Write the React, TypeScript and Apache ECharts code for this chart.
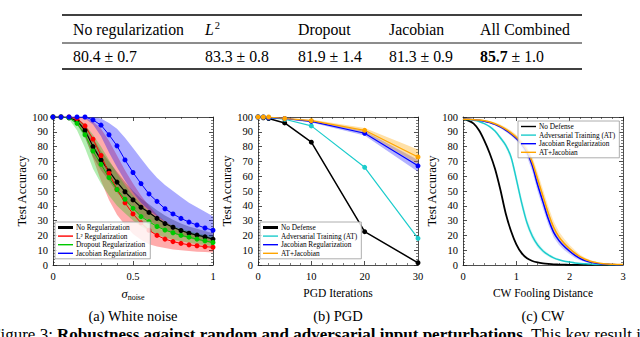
import React, { useEffect, useRef } from 'react';
import * as echarts from 'echarts';

const FONT = '"Liberation Serif","Times New Roman",Times,serif';

// ---------- Table ----------
const TABLE_HEADERS = ['No regularization', 'L2', 'Dropout', 'Jacobian', 'All Combined'];
const TABLE_MEAN = [80.4, 83.3, 81.9, 81.3, 85.7];
const TABLE_STD = [0.7, 0.8, 1.4, 0.9, 1.0];

// ---------- (a) White noise ----------
const X1 = [0, 0.05, 0.1, 0.15, 0.2, 0.25, 0.3, 0.35, 0.4, 0.45, 0.5, 0.55, 0.6, 0.65, 0.7, 0.75, 0.8, 0.85, 0.9, 0.95, 1];
const NONE_MEAN = [100, 100, 99.5, 97.5, 91, 80, 71, 63.5, 56, 49.5, 44, 39, 35.5, 31.5, 28, 25.5, 23.3, 21.5, 20.2, 19, 17.5];
const NONE_UP = [100, 100, 100, 99.5, 95, 86, 77, 70, 63, 56, 50, 45, 41, 37, 33.5, 30.5, 28, 26, 24.5, 23, 21.5];
const NONE_LO = [100, 100, 99, 95, 86, 73, 64, 57, 49, 43, 38, 33, 30, 26.5, 23.5, 21.5, 19.5, 18, 16.8, 15.7, 14.5];
const L2_MEAN = [100, 100, 100, 99, 94, 85, 74, 62, 51, 42, 34.5, 28.5, 23.5, 20, 17.5, 15.8, 14.6, 13.6, 13, 12.4, 12];
const L2_UP = [100, 100, 100, 100, 99.5, 97, 92, 84, 74, 64, 55, 47, 40, 34, 29.5, 26, 23.5, 21.5, 20, 18.5, 17];
const L2_LO = [100, 100, 99.5, 96, 87, 72, 57, 44, 34, 27, 21, 17, 14, 12.5, 11.5, 10.5, 10, 9.5, 9, 8.7, 8.5];
const DROP_MEAN = [100, 100, 99.5, 95.7, 88, 77, 68, 59, 51, 44.4, 38.3, 32.7, 29.3, 26, 23.6, 21.8, 20, 18.8, 17.5, 16.3, 15.2];
const DROP_UP = [100, 100, 100, 99, 95, 88, 80, 71, 62, 54, 47, 41, 36, 32, 29, 26.5, 24.5, 23, 21.5, 20.5, 19.5];
const DROP_LO = [100, 100, 98.5, 91, 79, 65, 55, 47, 40, 35, 30, 26, 23, 20.5, 18.5, 17, 16, 15, 14, 13.5, 12.5];
const JAC_MEAN = [100, 100, 100, 100, 100, 98, 94.5, 88, 80.5, 71, 62.5, 55, 48, 43, 38, 34.5, 31.5, 29, 27, 25, 23.5];
const JAC_UP = [100, 100, 100, 100, 100, 100, 99, 96, 92, 86, 79, 72, 65, 59, 54, 50, 46, 42, 39, 36, 33];
const JAC_LO = [100, 100, 100, 100, 99, 95, 87, 76, 66, 57, 49, 42, 37, 33, 29, 26, 24, 22, 20.5, 19, 18];

// ---------- (b) PGD ----------
const X2 = [0, 1, 2, 5, 10, 20, 30];
const PGD_NONE = [100, 99.5, 99, 96, 83, 22.5, 1.5];
const PGD_AT = [100, 100, 99.5, 98.5, 94, 66, 18];
const PGD_JAC = [100, 100, 99.5, 99, 97, 89, 67];
const PGD_JAC_UP = [100, 100, 100, 99.5, 97.8, 90.5, 71];
const PGD_JAC_LO = [100, 100, 99, 98.5, 96.2, 87.5, 63];
const PGD_ATJ = [100, 100, 100, 99, 97.5, 91, 73];
const PGD_ATJ_UP = [100, 100, 100, 99.5, 98.3, 92.5, 78];
const PGD_ATJ_LO = [100, 100, 99.5, 98.5, 96.7, 89.5, 68];

// ---------- (c) CW ----------
const X3 = [0, 0.1, 0.2, 0.3, 0.4, 0.5, 0.6, 0.7, 0.8, 0.9, 1, 1.1, 1.2, 1.3, 1.4, 1.5, 1.6, 1.7, 1.8, 1.9, 2, 2.1, 2.2, 2.3, 2.4, 2.5, 2.6, 2.7, 2.8, 2.9, 3];
const CW_NONE = [98.5, 97.5, 95.5, 91, 84, 75.5, 65, 51, 35, 23, 14, 8, 4.5, 2.7, 1.7, 1.1, 0.7, 0.4, 0.3, 0.2, 0.1, 0.1, 0.1, 0.1, 0.1, 0.1, 0.1, 0.1, 0.1, 0.1, 0.1];
const CW_AT = [98.5, 98.3, 97.8, 97, 95.5, 93.5, 90.5, 86, 81, 73, 58, 42, 28.5, 19.5, 13.5, 9.5, 6.8, 4.8, 3.5, 2.6, 2, 1.4, 1, 0.8, 0.6, 0.4, 0.3, 0.3, 0.2, 0.2, 0.2];
const CW_AT_UP = [98.6, 98.4, 98, 97.3, 96, 94.2, 91.5, 87.3, 82.7, 75.5, 61.5, 45.5, 31.5, 22, 15.5, 11, 8, 5.7, 4.2, 3.1, 2.4, 1.7, 1.2, 0.9, 0.7, 0.5, 0.4, 0.3, 0.3, 0.2, 0.2];
const CW_AT_LO = [98.4, 98.2, 97.6, 96.7, 95, 92.8, 89.5, 84.7, 79.3, 70.5, 54.5, 38.5, 25.5, 17, 11.5, 8, 5.6, 3.9, 2.8, 2.1, 1.6, 1.1, 0.8, 0.7, 0.5, 0.3, 0.2, 0.2, 0.1, 0.1, 0.1];
const CW_JAC = [98.5, 98.4, 98.2, 97.8, 97.2, 96.3, 95, 93.3, 91.2, 88.6, 85.5, 81.5, 76, 67, 54, 42.5, 31, 22, 16.5, 12.5, 9.3, 6.5, 4.3, 2.8, 1.8, 1.1, 0.7, 0.5, 0.3, 0.2, 0.2];
const CW_JAC_UP = [98.8, 98.7, 98.5, 98.2, 97.7, 96.9, 95.8, 94.2, 92.3, 89.9, 87, 83.3, 78.5, 70.5, 58.5, 47, 35.5, 26, 19.5, 15, 11.5, 8.3, 5.7, 3.8, 2.5, 1.6, 1, 0.7, 0.5, 0.3, 0.3];
const CW_JAC_LO = [98.2, 98.1, 97.9, 97.4, 96.7, 95.7, 94.2, 92.4, 90.1, 87.3, 84, 79.5, 73, 63, 49.5, 38, 27, 18.5, 13.5, 10, 7.2, 4.8, 3, 1.8, 1.1, 0.6, 0.4, 0.3, 0.2, 0.1, 0.1];
const CW_ATJ = [98.5, 98.4, 98.2, 97.9, 97.4, 96.6, 95.4, 93.8, 91.8, 89.3, 86.3, 82.5, 77.5, 69.5, 58, 46.5, 35, 25.5, 19, 14.5, 11, 8, 5.5, 3.7, 2.4, 1.6, 1, 0.7, 0.5, 0.3, 0.3];
const CW_ATJ_UP = [98.9, 98.8, 98.6, 98.4, 98, 97.3, 96.3, 94.9, 93.1, 90.8, 88, 84.5, 80, 73, 62.5, 51, 39.5, 29.5, 22.5, 17.5, 13.5, 10, 7, 4.8, 3.2, 2.1, 1.4, 1, 0.7, 0.5, 0.4];
const CW_ATJ_LO = [98.1, 98, 97.8, 97.4, 96.8, 95.9, 94.5, 92.7, 90.5, 87.8, 84.6, 80.5, 75, 66, 53.5, 42, 30.5, 21.5, 15.5, 11.5, 8.5, 6, 4, 2.6, 1.6, 1.1, 0.7, 0.4, 0.3, 0.2, 0.2];

const C_BLACK = '#000000';
const C_RED = '#ff0000';
const C_GREEN = '#00c800';
const C_BLUE = '#0000ff';
const C_CYAN = '#1ccccc';
const C_ORANGE = '#ffa500';

const GRID_LEFT = [53, 258, 463];

// bottom x axis / left y axis of grid g have index 2*g
// The whole band is one polygon drawn by the first data item.
function band(g: number, X: number[], lo: number[], hi: number[], fill: string, z: number) {
  return {
    type: 'custom',
    xAxisIndex: 2 * g,
    yAxisIndex: 2 * g,
    silent: true,
    z,
    data: X.map((x, i) => [x, lo[i], hi[i]]),
    encode: { x: 0, y: [1, 2] },
    renderItem: (params: any, api: any) => {
      if (params.dataIndexInside !== 0) return null;
      const n = params.dataInsideLength;
      const top: number[][] = [];
      const bot: number[][] = [];
      for (let i = 0; i < n; i++) {
        top.push(api.coord([api.value(0, i), api.value(2, i)]));
        bot.push(api.coord([api.value(0, i), api.value(1, i)]));
      }
      bot.reverse();
      return {
        type: 'polygon',
        shape: { points: top.concat(bot) },
        style: { fill },
      };
    },
  };
}

function line(name: string, g: number, X: number[], Y: number[], color: string, width: number, z: number, symbolSize = 0, smooth: any = false) {
  return {
    type: 'line',
    name,
    xAxisIndex: 2 * g,
    yAxisIndex: 2 * g,
    z,
    data: X.map((x, i) => [x, Y[i]]),
    color,
    lineStyle: { color, width },
    itemStyle: { color },
    symbol: symbolSize ? 'circle' : 'none',
    symbolSize,
    showSymbol: !!symbolSize,
    smooth,
  };
}

const axisLineStyle = { color: '#222', width: 0.8 };

function xAxes(g: number, max: number, interval: number, name: string, rich?: any) {
  const base = {
    type: 'value',
    gridIndex: g,
    min: 0,
    max,
    interval,
    splitLine: { show: false },
    axisLine: { show: true, onZero: false, lineStyle: axisLineStyle },
    axisTick: { show: true, inside: true, length: 4, lineStyle: axisLineStyle },
    minorTick: { show: true, splitNumber: 5, length: 2, lineStyle: { color: '#222', width: 0.6 } },
  };
  return [
    {
      ...base,
      position: 'bottom',
      axisLabel: { show: true, fontFamily: FONT, fontSize: 10.5, color: '#000', margin: 6 },
      name,
      nameLocation: 'middle',
      nameGap: 22,
      nameTextStyle: { fontFamily: FONT, fontSize: 11.5, color: '#000', rich },
    },
    { ...base, position: 'top', axisLabel: { show: false } },
  ];
}

function yAxes(g: number) {
  const base = {
    type: 'value',
    gridIndex: g,
    min: 0,
    max: 100,
    interval: 10,
    splitLine: { show: false },
    axisLine: { show: true, onZero: false, lineStyle: axisLineStyle },
    axisTick: { show: true, inside: true, length: 4, lineStyle: axisLineStyle },
    minorTick: { show: true, splitNumber: 5, length: 2, lineStyle: { color: '#222', width: 0.6 } },
  };
  return [
    {
      ...base,
      position: 'left',
      axisLabel: { show: true, fontFamily: FONT, fontSize: 10.5, color: '#000', margin: 5 },
      name: 'Test Accuracy',
      nameLocation: 'middle',
      nameGap: 21,
      nameTextStyle: { fontFamily: FONT, fontSize: 12.5, color: '#000' },
    },
    { ...base, position: 'right', axisLabel: { show: false } },
  ];
}

function legend(left: number, top: number, names: string[], thickFirst: boolean, itemHeight: number) {
  return {
    orient: 'vertical',
    left,
    top,
    itemGap: 1.6,
    itemWidth: 15,
    itemHeight,
    padding: [2, 4, 2, 3],
    borderColor: '#999',
    borderWidth: 0.8,
    backgroundColor: 'rgba(255,255,255,0.82)',
    selectedMode: false,
    data: names.map((n, i) => ({
      name: n,
      icon: thickFirst && i === 0 ? 'path://M0,0H15V3H0Z' : 'path://M0,0H15V1.4H0Z',
    })),
    textStyle: { fontFamily: FONT, fontSize: 7.3, color: '#000', padding: [0, 0, 0, -2] },
  };
}

export default function App() {
  const ref = useRef<HTMLDivElement>(null);
  useEffect(() => {
    if (!ref.current) return;
    const chart = echarts.init(ref.current, undefined, { renderer: 'svg' });

    const colX = [73, 205, 298, 389, 480];
    const best = TABLE_MEAN.indexOf(Math.max(...TABLE_MEAN));
    const tableTexts: any[] = [];
    TABLE_HEADERS.forEach((h, i) => {
      const text = h === 'L2' ? '{i|L}{sup|2}' : '{n|' + h + '}';
      tableTexts.push({
        type: 'text',
        x: colX[i],
        y: 29,
        style: {
          text,
          fontFamily: FONT,
          fontSize: 15.8,
          fill: '#000',
          textAlign: 'left',
          textVerticalAlign: 'middle',
          rich: {
            n: { fontFamily: FONT, fontSize: 15.8, fill: '#000' },
            i: { fontFamily: FONT, fontSize: 15.8, fontStyle: 'italic', fill: '#000' },
            sup: { fontFamily: FONT, fontSize: 10.5, fill: '#000', padding: [0, 0, 8, 1] },
          },
        },
      });
      const m = TABLE_MEAN[i].toFixed(1);
      const s = ' ± ' + TABLE_STD[i].toFixed(1);
      tableTexts.push({
        type: 'text',
        x: colX[i],
        y: 56,
        style: {
          text: i === best ? '{b|' + m + '}{n|' + s + '}' : '{n|' + m + s + '}',
          fontFamily: FONT,
          fontSize: 15.8,
          fill: '#000',
          textAlign: 'left',
          textVerticalAlign: 'middle',
          rich: {
            n: { fontFamily: FONT, fontSize: 15.8, fill: '#000' },
            b: { fontFamily: FONT, fontSize: 15.8, fontWeight: 'bold', fill: '#000' },
          },
        },
      });
    });

    const captions = [
      { x: 133, t: '(a) White noise' },
      { x: 338, t: '(b) PGD' },
      { x: 543, t: '(c) CW' },
    ].map((c) => ({
      type: 'text',
      x: c.x,
      y: 316,
      style: { text: c.t, fontFamily: FONT, fontSize: 14.5, fill: '#000', textAlign: 'center', textVerticalAlign: 'middle' },
    }));

    const option: any = {
      animation: false,
      backgroundColor: '#ffffff',
      grid: GRID_LEFT.map((l) => ({ left: l, top: 117, width: 160, height: 148, show: false })),
      xAxis: [
        ...xAxes(0, 1, 0.5, '{s|σ}{sub|noise}', {
          s: { fontFamily: FONT, fontSize: 12.5, fontStyle: 'italic', color: '#000' },
          sub: { fontFamily: FONT, fontSize: 8, color: '#000', padding: [6, 0, 0, 0] },
        }),
        ...xAxes(1, 30, 10, 'PGD Iterations'),
        ...xAxes(2, 3, 1, 'CW Fooling Distance'),
      ],
      yAxis: [...yAxes(0), ...yAxes(1), ...yAxes(2)],
      legend: [
        legend(55, 222, ['No Regularization', 'L² Regularization', 'Dropout Regularization', 'Jacobian Regularization'], true, 3),
        legend(260, 222, ['No Defense', 'Adversarial Training (AT)', 'Jacobian Regularization', 'AT+Jacobian'], true, 3),
        legend(518, 121, ['No Defense', 'Adversarial Training (AT)', 'Jacobian Regularization', 'AT+Jacobian'], false, 2.5),
      ],
      series: [],
      graphic: [
        { type: 'line', shape: { x1: 62, y1: 15, x2: 582, y2: 15 }, style: { stroke: '#000', lineWidth: 1.6 } },
        { type: 'line', shape: { x1: 62, y1: 43, x2: 582, y2: 43 }, style: { stroke: '#000', lineWidth: 0.9 } },
        { type: 'line', shape: { x1: 62, y1: 69, x2: 582, y2: 69 }, style: { stroke: '#000', lineWidth: 1.6 } },
        ...tableTexts,
        ...captions,
        {
          type: 'text',
          x: -9,
          y: 334.5,
          style: {
            text: '{n|Figure 3: }{b|Robustness against random and adversarial input perturbations.}{n| This key result i}',
            fontFamily: FONT,
            fontSize: 17,
            fill: '#000',
            textAlign: 'left',
            textVerticalAlign: 'middle',
            rich: {
              n: { fontFamily: FONT, fontSize: 17, fill: '#000' },
              b: { fontFamily: FONT, fontSize: 17, fontWeight: 'bold', fill: '#000' },
            },
          },
        },
      ],
    };

    option.series = [
      // (a)
      band(0, X1, NONE_LO, NONE_UP, 'rgba(0,0,0,0.28)', 1),
      band(0, X1, L2_LO, L2_UP, 'rgba(255,0,0,0.33)', 1),
      band(0, X1, DROP_LO, DROP_UP, 'rgba(0,200,0,0.3)', 1),
      band(0, X1, JAC_LO, JAC_UP, 'rgba(0,0,255,0.33)', 1),
      line('No Regularization', 0, X1, NONE_MEAN, C_BLACK, 1.2, 3, 5),
      line('L² Regularization', 0, X1, L2_MEAN, C_RED, 1, 3, 5),
      line('Dropout Regularization', 0, X1, DROP_MEAN, C_GREEN, 1, 3, 5),
      line('Jacobian Regularization', 0, X1, JAC_MEAN, C_BLUE, 1, 3, 5),
      // (b)
      band(1, X2, PGD_JAC_LO, PGD_JAC_UP, 'rgba(0,0,255,0.3)', 1),
      band(1, X2, PGD_ATJ_LO, PGD_ATJ_UP, 'rgba(255,165,0,0.35)', 1),
      line('No Defense', 1, X2, PGD_NONE, C_BLACK, 1.5, 3, 5),
      line('Adversarial Training (AT)', 1, X2, PGD_AT, C_CYAN, 1.2, 3, 5),
      line('Jacobian Regularization', 1, X2, PGD_JAC, C_BLUE, 1.2, 3, 5),
      line('AT+Jacobian', 1, X2, PGD_ATJ, C_ORANGE, 1.2, 3, 5),
      // (c)
      band(2, X3, CW_AT_LO, CW_AT_UP, 'rgba(28,204,204,0.15)', 1),
      band(2, X3, CW_JAC_LO, CW_JAC_UP, 'rgba(0,0,255,0.2)', 1),
      band(2, X3, CW_ATJ_LO, CW_ATJ_UP, 'rgba(255,165,0,0.28)', 1),
      line('No Defense', 2, X3, CW_NONE, C_BLACK, 1.8, 3, 0, 0.3),
      line('Adversarial Training (AT)', 2, X3, CW_AT, C_CYAN, 1.5, 3, 0, 0.3),
      line('Jacobian Regularization', 2, X3, CW_JAC, C_BLUE, 1.5, 3, 0, 0.3),
      line('AT+Jacobian', 2, X3, CW_ATJ, C_ORANGE, 1.5, 3, 0, 0.3),
    ];

    chart.setOption(option);
    return () => chart.dispose();
  }, []);

  return <div ref={ref} style={{ position: 'fixed', left: 0, top: 0, width: 640, height: 337, background: '#fff' }} />;
}
